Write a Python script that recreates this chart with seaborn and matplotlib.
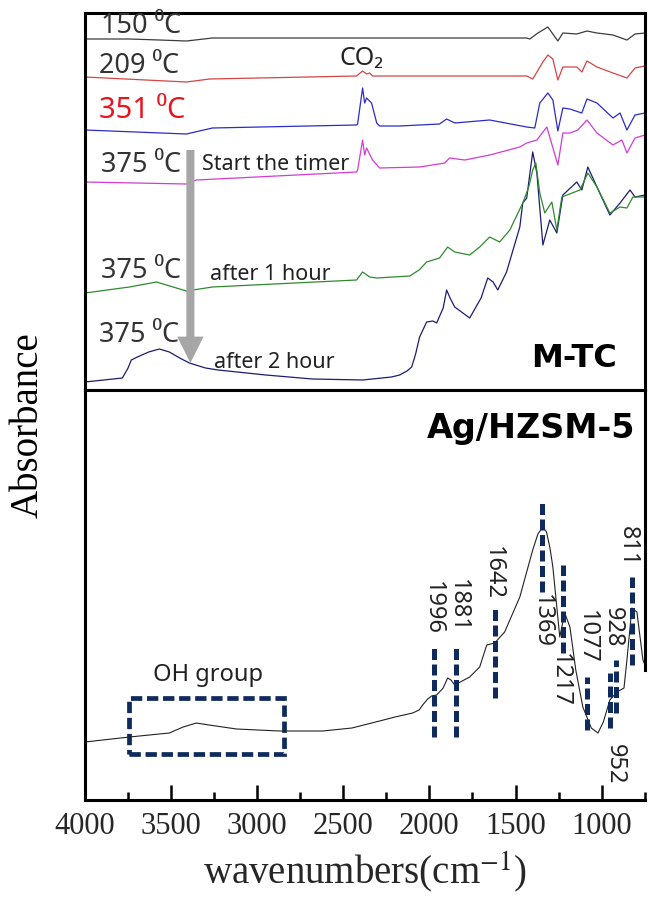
import numpy as np
import matplotlib
matplotlib.use("Agg")
import matplotlib.pyplot as plt
import seaborn as sns
from matplotlib.patches import Rectangle
from matplotlib.ticker import MultipleLocator

sns.set_theme(style="white")
plt.rcParams["font.family"] = ["Noto Sans", "DejaVu Sans"]
plt.rcParams["mathtext.fontset"] = "stix"

# ---------------- data (top panel, M-TC, offset spectra) ----------------
wn_150 = [4000, 3742, 3568, 3411, 3260, 2580, 1435, 1417, 1370, 1312, 1254, 1225, 1144, 1085, 1027, 934, 853, 806, 748]
ab_150 = [3.51, 3.51, 3.50, 3.49, 3.52, 3.52, 3.52, 3.51, 3.57, 3.63, 3.49, 3.57, 3.56, 3.59, 3.57, 3.55, 3.50, 3.56, 3.57]

wn_209 = [4000, 3411, 3277, 2423, 2388, 2365, 2347, 2330, 1435, 1400, 1341, 1312, 1283, 1254, 1225, 1144, 1115, 1085, 1027, 934, 853, 806, 748]
ab_209 = [3.13, 3.08, 3.11, 3.14, 3.19, 3.16, 3.17, 3.14, 3.14, 3.11, 3.28, 3.35, 3.31, 3.10, 3.23, 3.23, 3.18, 3.29, 3.23, 3.17, 3.12, 3.22, 3.24]

wn_351 = [4000, 3411, 3260, 2423, 2417, 2388, 2376, 2365, 2336, 2306, 2289, 2173, 1941, 1900, 1853, 1650, 1435, 1388, 1359, 1312, 1283, 1254, 1225, 1184, 1115, 1085, 1027, 934, 893, 853, 806, 748]
ab_351 = [2.60, 2.56, 2.62, 2.65, 2.66, 3.02, 2.87, 2.92, 2.87, 2.67, 2.64, 2.64, 2.66, 2.71, 2.67, 2.70, 2.63, 2.62, 2.87, 2.97, 2.90, 2.59, 2.82, 2.81, 2.77, 2.91, 2.87, 2.72, 2.77, 2.60, 2.75, 2.77]

wn_375s = [4000, 3411, 3353, 2423, 2417, 2388, 2376, 2365, 2330, 2289, 2057, 1911, 1883, 1795, 1650, 1475, 1435, 1376, 1318, 1254, 1225, 1184, 1138, 1085, 1027, 934, 882, 853, 806, 748]
ab_375s = [2.08, 2.06, 2.10, 2.18, 2.20, 2.50, 2.35, 2.42, 2.30, 2.22, 2.23, 2.27, 2.32, 2.30, 2.35, 2.43, 2.47, 2.50, 2.63, 2.25, 2.57, 2.57, 2.60, 2.70, 2.57, 2.45, 2.50, 2.37, 2.52, 2.55]

wn_1h = [4000, 3742, 3585, 3411, 3260, 2423, 2388, 2347, 2306, 2114, 2060, 2016, 1941, 1894, 1853, 1766, 1708, 1650, 1592, 1533, 1458, 1423, 1400, 1382, 1359, 1330, 1289, 1260, 1231, 1126, 1080, 1027, 952, 893, 853, 818, 748]
ab_1h = [0.97, 1.03, 1.08, 0.99, 1.03, 1.10, 1.18, 1.13, 1.12, 1.14, 1.20, 1.28, 1.32, 1.43, 1.38, 1.35, 1.43, 1.53, 1.48, 1.60, 1.87, 2.03, 2.20, 2.27, 1.97, 1.77, 1.88, 1.60, 1.93, 2.00, 2.17, 2.03, 1.77, 1.83, 1.82, 1.93, 1.93]

wn_2h = [4000, 3783, 3750, 3731, 3696, 3630, 3568, 3510, 3450, 3394, 3300, 3227, 2950, 2679, 2388, 2220, 2173, 2130, 2103, 2080, 2057, 2016, 1980, 1958, 1920, 1900, 1880, 1853, 1766, 1700, 1661, 1630, 1603, 1552, 1475, 1458, 1435, 1400, 1376, 1341, 1301, 1260, 1225, 1144, 1115, 1080, 1027, 952, 893, 835, 806, 748]
ab_2h = [0.08, 0.12, 0.22, 0.30, 0.33, 0.38, 0.41, 0.38, 0.32, 0.27, 0.22, 0.20, 0.15, 0.11, 0.10, 0.13, 0.15, 0.19, 0.23, 0.36, 0.53, 0.68, 0.69, 0.67, 0.82, 1.00, 0.92, 0.83, 0.72, 0.92, 1.12, 1.08, 1.00, 1.18, 1.63, 1.87, 1.92, 2.38, 2.17, 1.45, 1.70, 1.57, 1.95, 2.08, 2.00, 2.23, 2.03, 1.75, 1.87, 2.00, 1.93, 1.95]

top_labels = ["150 ⁰C", "209 ⁰C", "351 ⁰C", "375 ⁰C", "375 ⁰C", "375 ⁰C"]
top_label_y = [3.57, 3.17, 2.72, 2.18, 1.12, 0.48]
notes = ["Start the timer", "after 1 hour", "after 2 hour"]
notes_y = [2.20, 1.10, 0.22]

# ---------------- data (bottom panel, Ag/HZSM-5) ----------------
wn_ag = [4000, 3742, 3510, 3430, 3353, 3280, 3120, 2870, 2620, 2450, 2289, 2200, 2097, 2060, 2039, 2010, 1987, 1958, 1920, 1894, 1875, 1853, 1810, 1766, 1708, 1667, 1621, 1563, 1475, 1400, 1370, 1341, 1320, 1300, 1283, 1243, 1214, 1184, 1150, 1109, 1060, 1021, 990, 952, 911, 870, 853, 824, 795, 760, 748]
ab_ag = [0.58, 0.63, 0.67, 0.73, 0.77, 0.75, 0.71, 0.69, 0.69, 0.72, 0.79, 0.83, 0.87, 0.90, 0.95, 1.01, 1.04, 1.05, 1.12, 1.22, 1.20, 1.15, 1.19, 1.23, 1.33, 1.55, 1.57, 1.68, 2.03, 2.50, 2.66, 2.73, 2.68, 2.52, 2.33, 1.63, 1.87, 1.73, 1.30, 0.93, 0.72, 0.67, 0.78, 1.00, 1.08, 1.12, 1.40, 1.92, 1.88, 1.40, 1.35]

peak_labels = ["1996", "1881", "1642", "1369", "1217", "1077", "952", "928", "811"]
peak_pos = [1975, 1847, 1620, 1347, 1225, 1085, 952, 917, 824]
peak_lo = [0.63, 0.63, 1.02, 2.08, 1.47, 0.70, 0.72, 0.87, 1.35]
peak_hi = [1.52, 1.53, 1.92, 2.97, 2.35, 1.23, 1.27, 1.40, 2.23]
peak_text_x = [1981, 1836, 1632, 1347, 1243, 1085, 923, 934, 846]
peak_text_y = [1.92, 1.94, 2.27, 1.79, 1.20, 1.63, 0.36, 1.73, 2.54]

oh_box_x = [3742, 2843]
oh_box_y = [0.46, 1.02]

xticks = [4000, 3500, 3000, 2500, 2000, 1500, 1000]

# ---------------- figure ----------------
fig = plt.figure(figsize=(6.49, 8.99), dpi=100)
L, R = 85 / 649, 645 / 649
ax1 = fig.add_axes([L, 1 - 390 / 899, R - L, (390 - 13) / 899])
ax2 = fig.add_axes([L, 1 - 800 / 899, R - L, (800 - 390) / 899])

series = [
    (wn_150, ab_150, "#3c3c3c"),
    (wn_209, ab_209, "#d64545"),
    (wn_351, ab_351, "#2b2bc8"),
    (wn_375s, ab_375s, "#d23cd2"),
    (wn_2h, ab_2h, "#1c1c72"),
    (wn_1h, ab_1h, "#2f8a2f"),
]
for wn, ab, c in series:
    sns.lineplot(x=wn, y=ab, ax=ax1, color=c, lw=0.9, estimator=None, sort=False, legend=False)

sns.lineplot(x=wn_ag, y=ab_ag, ax=ax2, color="#222222", lw=0.8, estimator=None, sort=False, legend=False)

for ax, top in ((ax1, 3.77), (ax2, 4.10)):
    ax.set_xlim(4000, 748)
    ax.set_ylim(0, top)
    ax.set_yticks([])
    ax.set_xlabel("")
    ax.set_ylabel("")

for s in ax1.spines.values():
    s.set_linewidth(2.2)
    s.set_color("black")
ax1.set_xticks([])

for k in ("left", "bottom", "top", "right"):
    ax2.spines[k].set_linewidth(2.2)
    ax2.spines[k].set_color("black")
ax2.spines["right"].set_bounds(1.30, 4.10)

ax2.set_xticks(xticks)
ax2.set_xticklabels([str(t) for t in xticks], fontfamily="Liberation Serif", fontsize=22)
ax2.xaxis.set_minor_locator(MultipleLocator(250))
ax2.tick_params(axis="x", which="major", direction="in", length=11, width=1.8, pad=9, bottom=True, top=False, color="black")
ax2.tick_params(axis="x", which="minor", direction="in", length=6, width=1.8, bottom=True, top=False, color="black")
ax2.set_xlabel("wavenumbers(cm$^{-1}$)", fontfamily="Liberation Serif", fontsize=28, labelpad=6)

# top panel labels
for i, (t, y) in enumerate(zip(top_labels, top_label_y)):
    col = "#e8141e" if i == 2 else "#333333"
    fs = 21 if i == 2 else 19.5
    x0 = 3917 if i in (1, 2, 5) else 3905
    ax1.text(x0, y, t, color=col, fontsize=fs, ha="left", va="baseline")
note_x = [3323, 3277, 3248]
for t, x, y in zip(notes, note_x, notes_y):
    ax1.text(x, y, t, color="#222222", fontsize=15.5, ha="left", va="baseline")
ax1.text(2394, 3.25, "CO₂", color="#222222", fontsize=18, ha="center", va="baseline")
ax1.text(910, 0.23, "M-TC", fontfamily="DejaVu Sans", fontweight="bold", fontsize=23, ha="right", va="baseline", color="black")

ax1.annotate("", xy=(3388, 0.27), xytext=(3388, 2.40),
             arrowprops=dict(arrowstyle="simple,head_length=0.95,head_width=0.95,tail_width=0.29",
                             mutation_scale=20, color="#a6a6a6", shrinkA=0, shrinkB=0, lw=0))

# bottom panel annotations
ax2.text(806, 3.62, "Ag/HZSM-5", fontfamily="DejaVu Sans", fontweight="bold", fontsize=24, ha="right", va="baseline", color="black")
for x, lo, hi in zip(peak_pos, peak_lo, peak_hi):
    ax2.plot([x, x], [lo, hi], color="#0f2a5c", lw=3.6, ls=(0, (2.2, 0.9)))
for t, x, y in zip(peak_labels, peak_text_x, peak_text_y):
    ax2.text(x, y, t, rotation=270, fontsize=17, ha="center", va="center", color="#222222")

ax2.add_patch(Rectangle((oh_box_x[0], oh_box_y[0]), oh_box_x[1] - oh_box_x[0], oh_box_y[1] - oh_box_y[0],
                        fill=False, edgecolor="#0f2a5c", lw=3.4, ls=(0, (2.4, 1.0))))
ax2.text(3288, 1.19, "OH group", fontsize=17, ha="center", va="baseline", color="#222222")

fig.text(28 / 649, 1 - 425 / 899, "Absorbance", rotation=90, fontfamily="Liberation Serif", fontsize=28,
         ha="center", va="center", color="black")

fig.savefig("out.png", dpi=100)
